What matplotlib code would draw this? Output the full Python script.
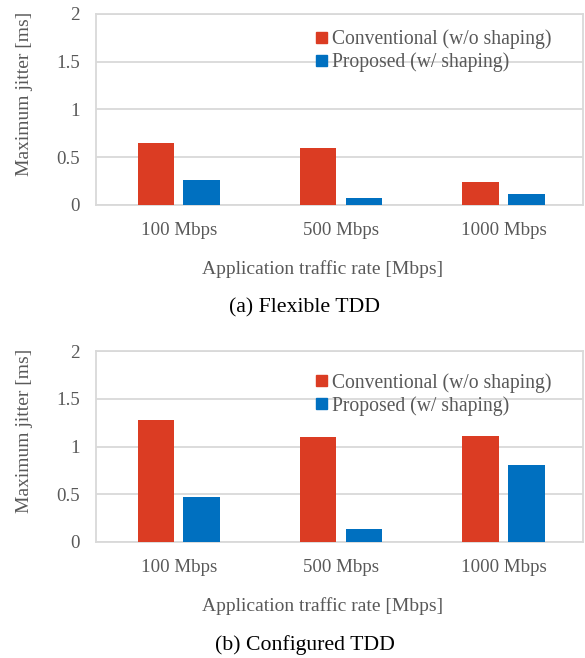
import matplotlib.pyplot as plt
import numpy as np
from matplotlib.patches import Patch, Rectangle

rates = ["100 Mbps", "500 Mbps", "1000 Mbps"]
flexible_conv = [0.65, 0.60, 0.237]
flexible_prop = [0.265, 0.077, 0.112]
configured_conv = [1.275, 1.10, 1.115]
configured_prop = [0.474, 0.135, 0.81]
yticks = [0, 0.5, 1, 1.5, 2]
ytick_labels = ["0", "0.5", "1", "1.5", "2"]
legend_labels = ["Conventional (w/o shaping)", "Proposed (w/ shaping)"]
captions = ["(a) Flexible TDD", "(b) Configured TDD"]

RED = "#DB3C23"
BLUE = "#0070C0"
TEXT = "#595959"
GRID = "#D9D9D9"

plt.rcParams["font.family"] = ["Liberation Serif", "DejaVu Serif"]

W, H = 585, 658
fig = plt.figure(figsize=(W / 100, H / 100), dpi=100)


def fy(px):
    return 1 - px / H


def panel(offset, conv, prop, caption, legend_y):
    # axes box in pixels: left 96, right 583, top 14, bottom 205 (+offset)
    ax = fig.add_axes([96 / W, fy(205 + offset), 487 / W, 191 / H])
    x = np.arange(len(rates)) + 0.01
    w = 0.225
    ax.bar(x - 0.141, conv, w, color=RED, zorder=3)
    ax.bar(x + 0.141, prop, w, color=BLUE, zorder=3)
    ax.set_xlim(-0.5, len(rates) - 0.5)
    ax.set_ylim(0, 2)
    ax.set_yticks(yticks)
    ax.set_yticklabels(ytick_labels)
    ax.set_xticks(x)
    ax.set_xticklabels(rates)
    ax.tick_params(length=0, labelsize=13.6, colors=TEXT)
    ax.tick_params(axis="x", pad=12)
    ax.tick_params(axis="y", pad=11.5)
    ax.grid(axis="y", color=GRID, lw=1.3, zorder=0)
    for s in ax.spines.values():
        s.set_color(GRID)
        s.set_linewidth(1.3)

    # white area behind the legend that hides the gridline
    ax.add_patch(Rectangle((0.40, 0.68), 0.573, 0.29, transform=ax.transAxes,
                           facecolor="white", edgecolor="none", zorder=1))
    handles = [Patch(color=RED), Patch(color=BLUE)]
    leg = ax.legend(handles, legend_labels, loc="upper left",
                    bbox_to_anchor=(0.452, legend_y), frameon=False,
                    fontsize=14.1, handlelength=0.56, handleheight=0.51,
                    handletextpad=0.25, labelspacing=0.17, borderpad=0,
                    borderaxespad=0)
    for t in leg.get_texts():
        t.set_color(TEXT)

    fig.text(25 / W, fy(94 + offset), "Maximum jitter [ms]", rotation=90,
             ha="center", va="center", fontsize=14, color=TEXT)
    fig.text(323 / W, fy(269 + offset), "Application traffic rate [Mbps]",
             ha="center", va="center", fontsize=14, color=TEXT)
    fig.text(304.5 / W, fy(308 + offset), caption, ha="center", va="center",
             fontsize=15.7, color="black")
    return ax


panel(0, flexible_conv, flexible_prop, captions[0], 0.918)
panel(337, configured_conv, configured_prop, captions[1], 0.886)

fig.savefig("out.png", dpi=100)
